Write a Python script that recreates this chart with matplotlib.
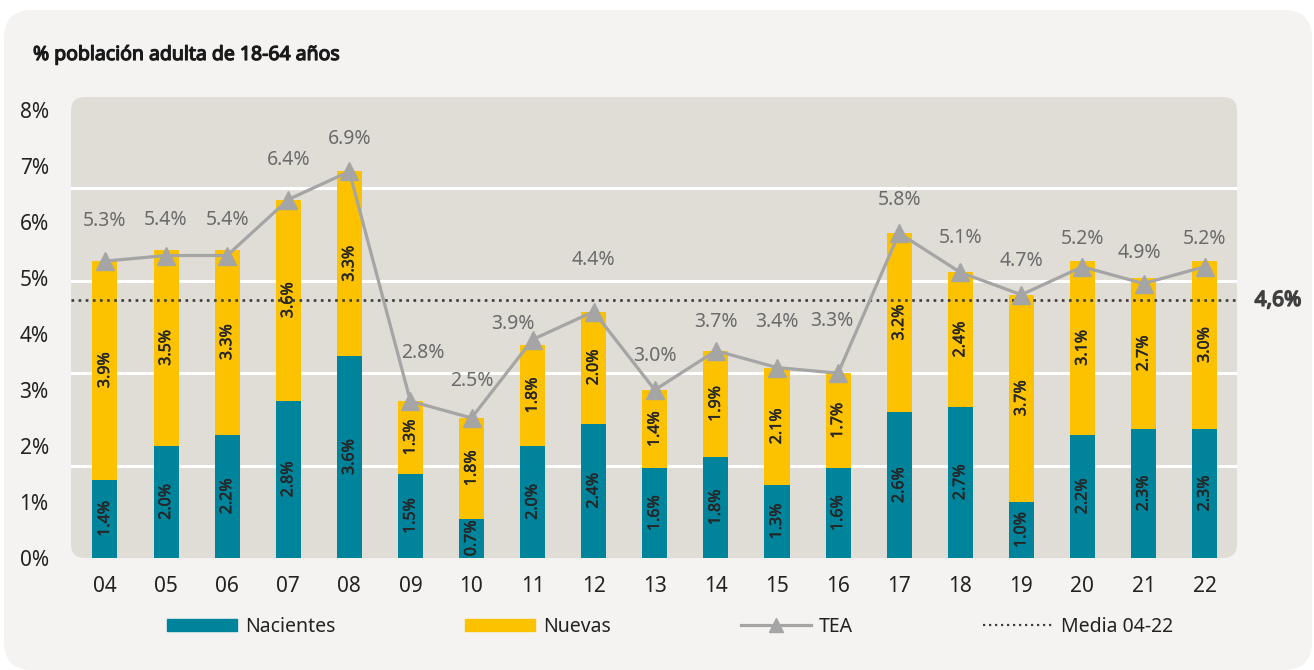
import numpy as np
import matplotlib
matplotlib.use("Agg")
import matplotlib.pyplot as plt
import matplotlib.patheffects as pe
from matplotlib.patches import FancyBboxPatch, Patch
from matplotlib.lines import Line2D

plt.rcParams['font.family'] = ['Noto Sans', 'DejaVu Sans']
plt.rcParams['font.stretch'] = 'condensed'

years = ['04', '05', '06', '07', '08', '09', '10', '11', '12', '13',
         '14', '15', '16', '17', '18', '19', '20', '21', '22']
nacientes = [1.4, 2.0, 2.2, 2.8, 3.6, 1.5, 0.7, 2.0, 2.4, 1.6,
             1.8, 1.3, 1.6, 2.6, 2.7, 1.0, 2.2, 2.3, 2.3]
nuevas = [3.9, 3.5, 3.3, 3.6, 3.3, 1.3, 1.8, 1.8, 2.0, 1.4,
          1.9, 2.1, 1.7, 3.2, 2.4, 3.7, 3.1, 2.7, 3.0]
tea = [5.3, 5.4, 5.4, 6.4, 6.9, 2.8, 2.5, 3.9, 4.4, 3.0,
       3.7, 3.4, 3.3, 5.8, 5.1, 4.7, 5.2, 4.9, 5.2]
media = 4.6
grid_y = [1.65, 3.3, 4.95, 6.6]

# label offsets (pixels) for the TEA values
lab_dy = [40, 36, 36, 40, 32, 48, 37, 16, 52, 34, 29, 46, 52, 33, 34, 34, 28, 31, 28]
lab_dx = [0, 0, 0, 0, 0, 12, 0, -20, 0, 0, 0, 0, -6, 0, 0, 0, 0, -4, 0]

teal = '#00849c'
yellow = '#fcc200'
gray = '#a5a5a5'

W, H = 1314, 670
fig = plt.figure(figsize=(W / 100, H / 100), dpi=100)
fig.patch.set_facecolor('white')

# outer card + plot background
fig.patches.append(FancyBboxPatch((4 / W, 0), 1308 / W, 660 / H,
                                  boxstyle='round,pad=0,rounding_size=%f' % (28 / W),
                                  mutation_aspect=W / H, transform=fig.transFigure,
                                  facecolor='#f4f3f1', edgecolor='none', zorder=-2))

left, right, top, bottom = 71, 1237, 97, 558
fig.patches.append(FancyBboxPatch((left / W, 1 - bottom / H), (right - left) / W, (bottom - top) / H,
                                  boxstyle='round,pad=0,rounding_size=%f' % (14 / W),
                                  mutation_aspect=W / H, transform=fig.transFigure,
                                  facecolor='#e0dcd6', edgecolor='none', zorder=-1))
ax = fig.add_axes([left / W, 1 - bottom / H, (right - left) / W, (bottom - top) / H])
ax.patch.set_visible(False)
ax.set_zorder(1)

x = np.arange(len(years))
for g in grid_y:
    ax.axhline(g, color='white', lw=2.2, zorder=1)

ax.bar(x, nacientes, width=0.41, color=teal, zorder=2)
ax.bar(x, nuevas, width=0.41, bottom=nacientes, color=yellow, zorder=2)
ax.plot(x, tea, color=gray, lw=2.3, marker='^', markersize=13, zorder=4)
ax.axhline(media, color='#3d3d3d', lw=1.9, linestyle=(0, (1, 1.7)), zorder=3)

semi = [pe.withStroke(linewidth=0.35, foreground='#262626')]
for i in range(len(years)):
    ax.text(x[i], nacientes[i] / 2, '%.1f%%' % nacientes[i], rotation=90,
            ha='center', va='center', fontsize=11.5, color='#262626', zorder=5,
            path_effects=semi)
    ax.text(x[i], nacientes[i] + nuevas[i] / 2, '%.1f%%' % nuevas[i], rotation=90,
            ha='center', va='center', fontsize=11.5, color='#262626', zorder=5,
            path_effects=semi)
    ax.annotate('%.1f%%' % tea[i], (x[i], tea[i]),
                xytext=(lab_dx[i] * 0.72, lab_dy[i] * 0.72), textcoords='offset points',
                ha='center', va='center', fontsize=14, color='#6b6b6b', zorder=5)

ax.text(1 + 41 / (right - left), media, '4,6%', transform=ax.get_yaxis_transform(),
        ha='center', va='center', fontsize=15, fontstretch='normal',
        color='#404040', clip_on=False,
        path_effects=[pe.withStroke(linewidth=1.1, foreground='#404040')])

ax.set_xlim(-0.556, 18.53)
ax.set_ylim(0, 8.23)
ax.set_xticks(x)
ax.set_xticklabels(years)
ax.set_yticks(range(0, 9))
ax.set_yticklabels(['%d%%' % v for v in range(0, 9)])
ax.tick_params(axis='both', length=0, labelsize=15, colors='#222222')
ax.tick_params(axis='y', pad=16)
ax.tick_params(axis='x', pad=13)
for s in ax.spines.values():
    s.set_visible(False)

fig.text(33 / W, 1 - 55 / H, '% población adulta de 18-64 años', fontsize=14,
         color='#1a1a1a', ha='left', va='center',
         path_effects=[pe.withStroke(linewidth=0.9, foreground='#1a1a1a')])

handles = [Patch(color=teal), Patch(color=yellow),
           Line2D([], [], color=gray, lw=2.3, marker='^', markersize=10),
           Line2D([], [], color='#3d3d3d', lw=1.6, linestyle=(0, (1, 1.7)))]
fig.legend(handles, ['Nacientes', 'Nuevas', 'TEA', 'Media 04-22'], loc='center left',
           bbox_to_anchor=(167 / W, 1 - 627 / H), ncol=4, frameon=False, fontsize=14,
           handlelength=3.6, handleheight=0.6, handletextpad=0.4, columnspacing=6.7,
           borderpad=0, borderaxespad=0, labelcolor='#222222')

fig.savefig('out.png', dpi=100, facecolor='white')
